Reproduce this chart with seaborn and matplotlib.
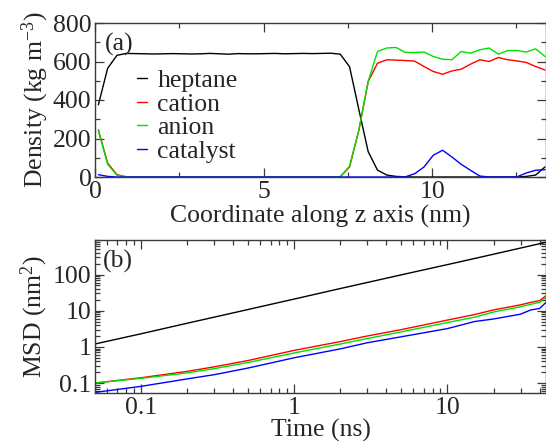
import numpy as np
import pandas as pd
import matplotlib
matplotlib.use("Agg")
import matplotlib.pyplot as plt
from matplotlib.ticker import MultipleLocator, LogLocator, NullFormatter, FuncFormatter
import seaborn as sns

# ---- (a) density profiles along z ----
z_nm = np.round(0.1 + 0.276 * np.arange(49), 3)

heptane = [375, 565, 632, 642,
           641, 640, 639, 640, 641, 640, 639, 640, 642, 640, 638, 641,
           640, 640, 641, 642, 640, 641, 642, 641, 642, 643,
           638, 573, 350, 132, 36, 10, 3, 1, 0, 0, 0, 0, 0, 0, 0, 0,
           0, 0, 0, 0, 3, 10, 52]
cation = [245, 72, 12, 1] + [0] * 22 + [
           1, 52, 243, 496, 591, 609, 607, 605, 602, 574, 548, 534, 551,
           560, 586, 609, 600, 621, 609, 603, 595, 574, 556]
anion = [240, 66, 9, 1] + [0] * 22 + [
           2, 56, 243, 496, 652, 670, 673, 647, 647, 649, 626, 612, 609,
           652, 643, 661, 670, 638, 657, 657, 649, 666, 626]
catalyst = [12, 3, 0, 0] + [0] * 22 + [
           0, 0, 0, 0, 0, 0, 0, 1, 17, 52, 113, 139, 104,
           66, 35, 5, 0, 0, 0, 1, 21, 35, 38]

species = ["heptane", "cation", "anion", "catalyst"]
colors = {"heptane": "#000000", "cation": "#ff0000",
          "anion": "#00e000", "catalyst": "#0000ff"}

# ---- (b) mean square displacement ----
t_heptane = [0.05, 0.1, 0.2, 0.5, 1, 2, 5, 10, 20, 44]
msd_heptane = [1.2, 2.3, 4.5, 10.8, 21, 41, 98, 188, 364, 780]

t_ions = [0.05, 0.1, 0.2, 0.3, 0.5, 1, 2, 3, 5, 10, 15, 20, 30, 35, 40, 44]
msd_cation = [0.10, 0.14, 0.21, 0.28, 0.42, 0.80, 1.40, 2.0, 3.0, 5.5,
              7.8, 10.5, 14.5, 17, 19, 26]
msd_anion = [0.10, 0.135, 0.19, 0.25, 0.37, 0.68, 1.2, 1.7, 2.6, 4.7,
             6.6, 9.2, 12.8, 15, 17, 23]
msd_catalyst = [0.055, 0.081, 0.13, 0.17, 0.26, 0.50, 0.88, 1.3, 1.9, 3.2,
                5.0, 5.9, 8.0, 10.5, 11.5, 17]

dens = pd.concat([
    pd.DataFrame({"z": z_nm, "density": vals, "species": name})
    for name, vals in zip(species, [heptane, cation, anion, catalyst])
], ignore_index=True)

msd = pd.concat([
    pd.DataFrame({"t": t_heptane, "msd": msd_heptane, "species": "heptane"}),
    pd.DataFrame({"t": t_ions, "msd": msd_cation, "species": "cation"}),
    pd.DataFrame({"t": t_ions, "msd": msd_anion, "species": "anion"}),
    pd.DataFrame({"t": t_ions, "msd": msd_catalyst, "species": "catalyst"}),
], ignore_index=True)

sns.set_theme(style="ticks")
plt.rcParams["font.family"] = ["Liberation Serif", "DejaVu Serif"]
plt.rcParams["mathtext.default"] = "regular"
FS = 18.5

fig = plt.figure(figsize=(5.46, 4.41), dpi=100)
ax1 = fig.add_axes([95 / 546, 1 - 177 / 441, 451 / 546, 154 / 441])
ax2 = fig.add_axes([95 / 546, 1 - 393 / 441, 451 / 546, 153 / 441])

sns.lineplot(data=dens, x="z", y="density", hue="species", hue_order=species,
             palette=colors, estimator=None, sort=False, lw=1.0, ax=ax1,
             legend=False)
sns.lineplot(data=msd, x="t", y="msd", hue="species", hue_order=species,
             palette=colors, estimator=None, sort=False, lw=1.0, ax=ax2,
             legend=False)

spine_col = "#3a3a3a"
for ax in (ax1, ax2):
    for s in ax.spines.values():
        s.set_visible(True)
        s.set_color(spine_col)
        s.set_linewidth(1.0)
    ax.tick_params(which="both", direction="in", top=True, right=True,
                   color=spine_col, labelsize=FS, width=0.9)
    ax.tick_params(which="major", length=6.5)
    ax.tick_params(which="minor", length=3.5)
    ax.tick_params(axis="y", which="major", pad=2.5)
    ax.tick_params(axis="x", which="major", pad=3)

# panel (a)
ax1.set_xlim(0, 13.38)
ax1.set_ylim(0, 800)
ax1.xaxis.set_major_locator(MultipleLocator(5))
ax1.xaxis.set_minor_locator(MultipleLocator(2.5))
ax1.yaxis.set_major_locator(MultipleLocator(200))
ax1.yaxis.set_minor_locator(MultipleLocator(100))
ax1.set_xlabel("Coordinate along z axis (nm)", fontsize=FS, labelpad=1)
ax1.set_ylabel(r"Density (kg m$^{-3}$)", fontsize=FS)
ax1.yaxis.set_label_coords(-0.097, 0.5)
ax1.text(0.022, 0.86, "(a)", transform=ax1.transAxes, fontsize=FS,
         ha="left", va="center")

handles = [plt.Line2D([], [], color=colors[s], lw=1.0) for s in species]
ax1.legend(handles, species, loc="upper left", bbox_to_anchor=(0.093, 0.70),
           frameon=False, fontsize=FS, handlelength=0.4, handletextpad=0.4,
           labelspacing=0.02, borderpad=0, borderaxespad=0)

# panel (b)
ax2.set_xscale("log")
ax2.set_yscale("log")
ax2.set_xlim(0.05, 44)
ax2.set_ylim(0.053, 900)
fmt = FuncFormatter(lambda v, p: f"{v:g}")
ax2.xaxis.set_major_locator(LogLocator(base=10, numticks=10))
ax2.xaxis.set_minor_locator(LogLocator(base=10, subs=np.arange(2, 10), numticks=20))
ax2.yaxis.set_major_locator(LogLocator(base=10, numticks=10))
ax2.yaxis.set_minor_locator(LogLocator(base=10, subs=np.arange(2, 10), numticks=20))
ax2.xaxis.set_major_formatter(fmt)
ax2.yaxis.set_major_formatter(fmt)
ax2.xaxis.set_minor_formatter(NullFormatter())
ax2.yaxis.set_minor_formatter(NullFormatter())
ax2.set_xlabel("Time (ns)", fontsize=FS, labelpad=-0.5)
ax2.set_ylabel(r"MSD (nm$^{2}$)", fontsize=FS)
ax2.yaxis.set_label_coords(-0.099, 0.5)
ax2.text(0.018, 0.86, "(b)", transform=ax2.transAxes, fontsize=FS,
         ha="left", va="center")

fig.savefig("out.png", dpi=100)
